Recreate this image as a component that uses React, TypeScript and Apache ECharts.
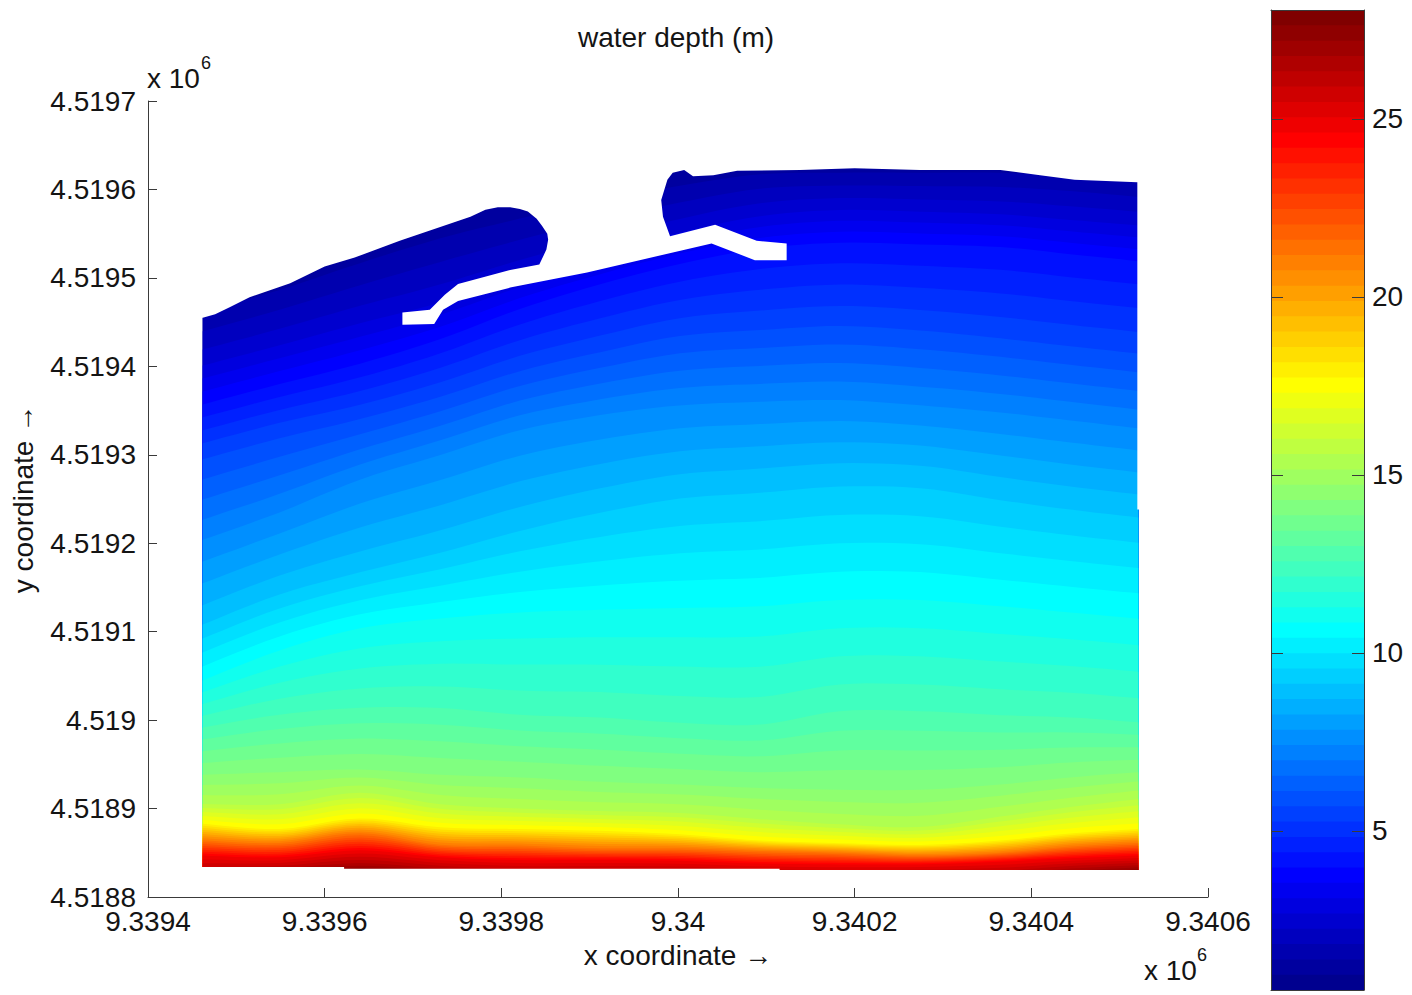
import React, { useEffect, useRef } from "react";
import * as echarts from "echarts";

// Axis units: metres east of 9339400 and metres north of 4518800.
const xTickLabels = ["9.3394", "9.3396", "9.3398", "9.34", "9.3402", "9.3404", "9.3406"];
const yTickLabels = ["4.5188", "4.5189", "4.519", "4.5191", "4.5192", "4.5193", "4.5194", "4.5195", "4.5196", "4.5197"];
const colorbarTicks = [5, 10, 15, 20, 25];
const depthMin = 0.53;
const depthMax = 28.06;
const colorSteps = 64;

const stations = [62, 149, 240, 331, 421, 512, 602, 693, 783, 874, 965, 1044, 1121];
const isolineDepths = [0.53, 1.5, 2.5, 4, 5.5, 7.41, 9, 10.85, 12.5, 14.3, 15.5, 17.7, 21.2, 24.6, 26.5, 28.06];
const iso0 = [709, 737, 777, 805, 822, 833, 845, 850, 850, 850, 850, 845, 839];
const iso1 = [655, 680, 709, 737, 760, 782, 799, 813, 815, 815, 815, 811, 804];
const iso2 = [607, 630, 655, 678, 707, 732, 756, 775, 782, 780, 777, 771, 765];
const iso3 = [556, 579, 602, 630, 664, 692, 715, 732, 739, 737, 734, 726, 718];
const iso4 = [505, 528, 548, 573, 602, 624, 643, 650, 655, 650, 641, 632, 624];
const iso5 = [404, 435, 472, 500, 528, 545, 556, 560, 562, 556, 548, 539, 530];
const iso6 = [313, 347, 372, 395, 421, 443, 460, 467, 474, 472, 458, 447, 438];
const iso7 = [245, 279, 304, 315, 322, 325, 327, 329, 336, 336, 329, 322, 315];
const iso8 = [194, 209, 217, 217, 209, 206, 200, 198, 214, 214, 209, 206, 200];
const iso9 = [138, 141, 144, 138, 135, 130, 127, 123, 121, 121, 127, 135, 141];
const iso10 = [106, 106, 119, 106, 101, 98, 96, 89, 83, 80, 92, 103, 112];
const iso11 = [83, 77, 89, 79, 77, 75, 71, 64, 61, 59, 64, 72, 77];
const iso12 = [64, 61, 72, 59, 58, 55, 55, 52, 50, 47, 50, 57, 61];
const iso13 = [47, 45, 53, 45, 42, 42, 41, 38, 37, 37, 40, 44, 47];
const iso14 = [28, 31, 37, 31, 27, 27, 27, 24, 23, 24, 25, 31, 35];
const iso15 = [20, 22, 28, 22, 16, 16, 16, 14, 13, 14, 15, 22, 27];
const isolines = [iso0, iso1, iso2, iso3, iso4, iso5, iso6, iso7, iso8, iso9, iso10, iso11, iso12, iso13, iso14, iso15];

// Land / harbour outline above the water, west to east.
const shoreline = [
  [62, 655], [76, 659], [93, 667], [115, 678], [161, 694], [200, 713], [234, 723], [285, 742],
  [365, 769], [382, 777], [396, 780], [410, 780], [421, 778], [430, 775], [440, 767], [446, 759], [452, 750], [453, 743], [451, 732], [443, 715],
  [410, 709], [351, 693], [336, 681], [319, 664], [288, 661], [288, 647], [324, 648], [334, 664],
  [351, 674], [410, 689], [497, 706], [638, 739], [687, 720], [723, 720], [723, 739], [689, 742],
  [642, 760], [591, 747], [583, 769], [581, 788], [588, 811], [594, 819], [607, 822], [617, 815],
  [640, 816], [667, 821], [738, 822], [800, 824], [874, 822], [965, 822], [1010, 816], [1049, 811],
  [1120, 808], [1120, 438], [1123, 438], [1123, 900], [60, 900], [60, 655],
];
const southEdge = [[60, 34], [222, 34], [222, 32], [715, 32], [715, 30.5], [1123, 30.5], [1123, 11], [60, 11]];
const fieldFloor = 12;

const TEXT = "#141414";
const LINE = "#3a3a3a";
const FONT = '"Liberation Sans", Arial, sans-serif';
const FS = 28;

const clamp = (v: number) => Math.max(0, Math.min(1, v));
function jet(level: number) {
  const f = (level + 1) / colorSteps;
  const r = clamp(Math.min(4 * f - 1.5, -4 * f + 4.5));
  const g = clamp(Math.min(4 * f - 0.5, -4 * f + 3.5));
  const b = clamp(Math.min(4 * f + 0.5, -4 * f + 2.5));
  return `rgb(${Math.round(r * 255)},${Math.round(g * 255)},${Math.round(b * 255)})`;
}
const levelDepth = (level: number) => depthMin + (level / colorSteps) * (depthMax - depthMin);

// Rounds the read polyline for drawing, so contours have no corners at the stations.
function rounded(pts: number[][]) {
  const out: number[][] = [];
  const n = pts.length;
  for (let i = 0; i < n - 1; i++) {
    const p0 = pts[Math.max(0, i - 1)];
    const p1 = pts[i];
    const p2 = pts[i + 1];
    const p3 = pts[Math.min(n - 1, i + 2)];
    for (let s = 0; s < 6; s++) {
      const t = s / 6;
      const c = (a: number, b: number, c2: number, d: number) =>
        0.5 * (2 * b + (c2 - a) * t + (2 * a - 5 * b + 4 * c2 - d) * t * t + (3 * b - a - 3 * c2 + d) * t * t * t);
      out.push([c(p0[0], p1[0], p2[0], p3[0]), c(p0[1], p1[1], p2[1], p3[1])]);
    }
  }
  out.push(pts[n - 1]);
  return out;
}

function curveAt(depth: number) {
  let i = 0;
  while (i < isolineDepths.length - 2 && depth > isolineDepths[i + 1]) i++;
  const t = (depth - isolineDepths[i]) / (isolineDepths[i + 1] - isolineDepths[i]);
  return rounded(stations.map((x, s) => [x, isolines[i][s] + t * (isolines[i + 1][s] - isolines[i][s])]));
}

const levels = Array.from({ length: colorSteps }, (_, k) => k);

export default function App() {
  const ref = useRef<HTMLDivElement>(null);
  useEffect(() => {
    const chart = echarts.init(ref.current!, null, { renderer: "svg" });
    const poly = (api: any, pts: number[][], fill: string) => ({
      type: "polygon",
      shape: { points: pts.map((p) => api.coord(p)) },
      style: { fill, stroke: null },
    });
    const plainLine = { show: true, onZero: false, lineStyle: { color: LINE, width: 1 } };
    chart.setOption({
      animation: false,
      backgroundColor: "#fff",
      textStyle: { fontFamily: FONT },
      grid: [
        { left: 148, top: 101, width: 1060, height: 796 },
        { left: 1271, top: 10, width: 93, height: 980 },
      ],
      xAxis: [
        {
          z: 6, axisLine: plainLine,
          gridIndex: 0, type: "value", min: 0, max: 1200, interval: 200,
          name: "x coordinate \u2192", nameLocation: "middle", nameGap: 44,
          nameTextStyle: { fontSize: FS, color: TEXT, fontFamily: FONT },
          axisTick: { show: true, inside: true, length: 9, lineStyle: { color: LINE } },
          axisLabel: { fontSize: FS, color: TEXT, fontFamily: FONT, margin: 10, formatter: (v: number) => xTickLabels[Math.round(v / 200)] },
          splitLine: { show: false },
        },
        { z: 6, axisLine: plainLine, gridIndex: 1, type: "value", min: 0, max: 1, position: "bottom", axisTick: { show: false }, axisLabel: { show: false }, splitLine: { show: false } },
        { z: 6, axisLine: plainLine, gridIndex: 1, type: "value", min: 0, max: 1, position: "top", axisTick: { show: false }, axisLabel: { show: false }, splitLine: { show: false } },
      ],
      yAxis: [
        {
          z: 6, axisLine: plainLine,
          gridIndex: 0, type: "value", min: 0, max: 900, interval: 100,
          name: "y coordinate \u2192", nameLocation: "middle", nameGap: 111, nameRotate: 90,
          nameTextStyle: { fontSize: FS, color: TEXT, fontFamily: FONT },
          axisTick: { show: true, inside: true, length: 9, lineStyle: { color: LINE } },
          axisLabel: { fontSize: FS, color: TEXT, fontFamily: FONT, margin: 12, formatter: (v: number) => yTickLabels[Math.round(v / 100)] },
          splitLine: { show: false },
        },
        {
          z: 6, axisLine: plainLine,
          gridIndex: 1, type: "value", min: depthMin, max: depthMax, position: "right",
          axisTick: { show: true, inside: true, length: 12, customValues: colorbarTicks, lineStyle: { color: LINE } },
          axisLabel: { fontSize: FS, color: TEXT, fontFamily: FONT, margin: 8, customValues: colorbarTicks },
          splitLine: { show: false },
        },
        {
          z: 6, axisLine: plainLine,
          gridIndex: 1, type: "value", min: depthMin, max: depthMax, position: "left",
          axisTick: { show: true, inside: true, length: 12, customValues: colorbarTicks, lineStyle: { color: LINE } },
          axisLabel: { show: false },
          splitLine: { show: false },
        },
      ],
      title: {
        text: "water depth (m)", left: 671, top: 18, textAlign: "center",
        textStyle: { fontSize: FS, fontWeight: "normal", color: TEXT, fontFamily: FONT },
      },
      graphic: [
        { type: "text", x: 147, y: 64, style: { text: "x 10", font: `${FS}px ${FONT}`, fill: TEXT } },
        { type: "text", x: 201, y: 54, style: { text: "6", font: `18px ${FONT}`, fill: TEXT } },
        { type: "text", x: 1144, y: 956, style: { text: "x 10", font: `${FS}px ${FONT}`, fill: TEXT } },
        { type: "text", x: 1197, y: 946, style: { text: "6", font: `18px ${FONT}`, fill: TEXT } },
      ],
      series: [
        {
          name: "water depth", type: "custom", coordinateSystem: "cartesian2d", xAxisIndex: 0, yAxisIndex: 0,
          clip: false, z: 1, data: levels.map((k) => [k, levelDepth(k)]), encode: { x: 0, y: 1 },
          renderItem: (_p: any, api: any) => {
            const k = api.value(0);
            const curve = curveAt(levelDepth(k));
            const pts = [...curve, [stations[stations.length - 1], fieldFloor], [stations[0], fieldFloor]];
            return poly(api, pts, jet(k));
          },
        },
        {
          name: "shore mask", type: "custom", coordinateSystem: "cartesian2d", xAxisIndex: 0, yAxisIndex: 0,
          clip: false, z: 2, data: [[0, 0], [1, 0]], encode: { x: 0, y: 1 },
          renderItem: (_p: any, api: any) => poly(api, api.value(0) === 0 ? shoreline : southEdge, "#ffffff"),
        },
        {
          name: "colorbar", type: "custom", coordinateSystem: "cartesian2d", xAxisIndex: 1, yAxisIndex: 1,
          clip: false, z: 1, data: levels.map((k) => [k, levelDepth(k)]), encode: { y: 1 },
          renderItem: (_p: any, api: any) => {
            const k = api.value(0);
            const lo = levelDepth(k);
            return poly(api, [[0, lo], [1, lo], [1, depthMax], [0, depthMax]], jet(k));
          },
        },
      ],
    });
    return () => chart.dispose();
  }, []);
  return <div ref={ref} style={{ position: "fixed", left: 0, top: 0, width: 1412, height: 995 }} />;
}
